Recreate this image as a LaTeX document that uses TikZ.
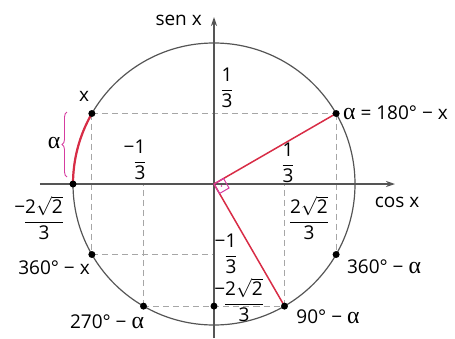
\RequirePackage{fix-cm}
\documentclass[tikz,border=0pt]{standalone}
\usepackage{amsmath}
\usepackage{fontspec}
\setmainfont{Open Sans}
\newfontfamily\grk{Liberation Serif}[Scale=1.25]
\usetikzlibrary{arrows.meta,decorations.pathreplacing,calc}
\definecolor{redline}{RGB}{216,44,70}
\definecolor{magline}{RGB}{214,60,160}
\definecolor{dgray}{RGB}{85,85,85}
\newcommand{\myfr}[2]{\ensuremath{\dfrac{\text{#1}}{\text{#2}}}}
\newcommand{\rtwo}{2\ensuremath{\sqrt{\text{2}}}}
\newcommand{\alp}{{\grk α}}
\begin{document}
\begin{tikzpicture}[x=1pt,y=1pt,
  lbl/.style={font=\fontsize{19}{22}\selectfont, inner sep=1pt},
  gdash/.style={draw=gray!70, line width=1.1pt, dash pattern=on 6pt off 4pt},
  dotpt/.style={circle, fill=black, inner sep=0pt, minimum size=7pt},
  axisline/.style={draw=dgray, line width=1.2pt, -{Stealth[length=9pt,width=6pt]}},
  redseg/.style={draw=redline, line width=1.5pt},
]
\useasboundingbox (-214,-154) rectangle (241,184);
\def\R{141}
\coordinate (O) at (0,0);
\coordinate (P30) at (30:\R);
\coordinate (P150) at (150:\R);
\coordinate (P180) at (180:\R);
\coordinate (P210) at (210:\R);
\coordinate (P240) at (240:\R);
\coordinate (P300) at (300:\R);
\coordinate (P330) at (330:\R);
\coordinate (Pbot) at (0,-122.1);
% circle
\draw[dgray, line width=1.2pt] (O) circle[radius=\R];
% dashed guides
\draw[gdash] (P150) -- (P30);
\draw[gdash] (P150) -- (P210);
\draw[gdash] (P210) -- (P210 -| O);
\draw[gdash] (P240) -- (P240 |- O);
\draw[gdash] (P240) -- (P300);
\draw[gdash] (P300) -- (P300 |- O);
\draw[gdash] (P30) -- (P330);
% axes
\coordinate (xs) at (-174,0);
\coordinate (xe) at (181,0);
\coordinate (ys) at (0,-154);
\coordinate (ye) at (0,167);
\draw[axisline] (xs) -- (xe);
\draw[axisline] (ys) -- (ye);
% red
\draw[redseg] (O) -- (P30);
\draw[redseg] (O) -- (P300);
\draw[draw=redline, line width=2.2pt] (P150) arc[start angle=150, end angle=180, radius=\R];
% right angle
\draw[magline, line width=1pt] (O) -- ++(30:11) -- ++(-60:11) -- ++(-150:11) -- cycle;
\fill[magline] ($(O)+(-15:7.8)$) circle[radius=0.9pt];
% brace
\coordinate (bb) at (-147,7);
\coordinate (bt) at (-147,72);
\draw[magline, line width=0.9pt, decorate, decoration={brace, amplitude=5pt}] (bb) -- (bt);
% dots
\foreach \p in {P30,P150,P180,P210,P240,P300,P330,Pbot}
  \node[dotpt] (d\p) at (\p) {};
% labels
\node[lbl, anchor=east] (sen) at (-11,164) {sen x};
\node[lbl] (cos) at (183,-18) {cos x};
\node[lbl] (lx) at (-130,88) {x};
\node[lbl, anchor=west] (la) at (128,71) {\alp{} = 180° − x};
\node[lbl] (lal) at (-160,41) {\alp};
\node[lbl] (f1) at (13,96) {\myfr{1}{3}};
\node[lbl] (f2) at (-74,24) {\myfr{\llap{−}1}{3}};
\node[lbl] (f3) at (74,21) {\myfr{1}{3}};
\node[lbl] (f4) at (95,-34) {\myfr{\rtwo}{3}};
\node[lbl] (f5) at (17,-70) {\myfr{\llap{−}1}{3}};
\node[lbl] (f6) at (30,-116) {\myfr{\llap{−}\rtwo}{3}};
\node[lbl] (f7) at (-170,-34) {\myfr{\llap{−}\rtwo}{3}};
\node[lbl] (l360x) at (-160,-84) {360° − x};
\node[lbl] (l270) at (-107,-138) {270° − \alp};
\node[lbl] (l360a) at (170,-83) {360° − \alp};
\node[lbl] (l90) at (114,-133) {90° − \alp};
\end{tikzpicture}
\end{document}
